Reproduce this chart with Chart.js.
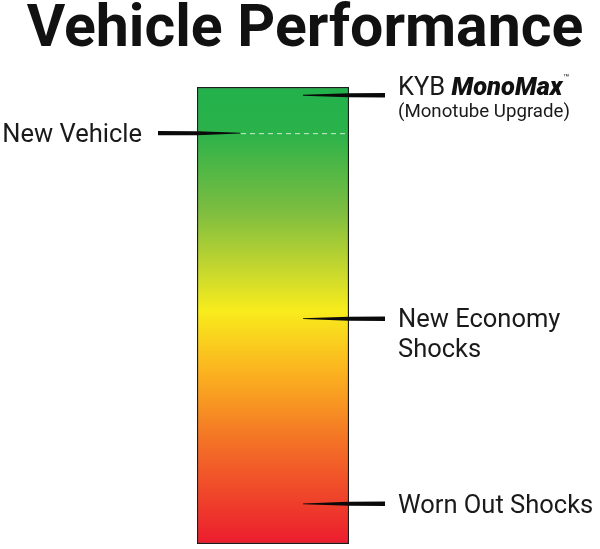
<!DOCTYPE html>
<html>
<head>
<meta charset="utf-8">
<script src="https://cdn.jsdelivr.net/npm/chart.js@4.4.1/dist/chart.umd.min.js"></script>
<style>
  html, body { margin: 0; padding: 0; background: #ffffff; }
  canvas { display: block; }
</style>
</head>
<body>
<canvas id="c" width="600" height="549"></canvas>
<script>
// ---- data ----
const titleText = 'Vehicle Performance';
const categories = ['Performance'];
const barValues = [100];
const markerNames = ['KYB MonoMax', 'New Vehicle', 'New Economy Shocks', 'Worn Out Shocks'];
const markerValues = [98.2, 89.9, 49.3, 8.8];
const markerSides = ['right', 'left', 'right', 'right'];
const axisMin = 0;
const axisMax = 100;

// ---- styling ----
const gradientStops = [
  [0.00, '#22b14c'],
  [0.10, '#2bb24a'],
  [0.27, '#7cbd40'],
  [0.40, '#c6d72e'],
  [0.49, '#f8ec1c'],
  [0.62, '#fbb41f'],
  [0.78, '#f37026'],
  [1.00, '#ec1c2e']
];
const FONT = 'Roboto, "Liberation Sans", Arial, sans-serif';

function taperLine(ctx, xThin, xEdge, xEnd, y) {
  ctx.beginPath();
  ctx.moveTo(xThin, y - 0.4);
  ctx.lineTo(xEdge, y - 2);
  ctx.lineTo(xEnd, y - 2.2);
  ctx.lineTo(xEnd, y + 2.2);
  ctx.lineTo(xEdge, y + 2);
  ctx.lineTo(xThin, y + 0.4);
  ctx.closePath();
  ctx.fill();
}

const annotate = {
  id: 'annotate',
  afterDatasetsDraw(chart) {
    const ctx = chart.ctx;
    const area = chart.chartArea;
    const y = chart.scales.y;
    ctx.save();
    // title
    ctx.fillStyle = '#111';
    ctx.font = 'bold 59px ' + FONT;
    ctx.textAlign = 'center';
    ctx.textBaseline = 'alphabetic';
    ctx.fillText(titleText, 305, 46);

    ctx.fillStyle = '#0a0a0a';
    markerValues.forEach((v, i) => {
      const py = y.getPixelForValue(v);
      if (markerSides[i] === 'right') {
        taperLine(ctx, area.right - 46, area.right, area.right + 36, py);
      } else {
        taperLine(ctx, area.left + 43, area.left, area.left - 39, py);
      }
    });

    // dashed white line for new vehicle
    const nvY = y.getPixelForValue(markerValues[1]);
    ctx.strokeStyle = 'rgba(255,255,255,0.75)';
    ctx.lineWidth = 1;
    ctx.setLineDash([5, 4]);
    ctx.beginPath();
    ctx.moveTo(area.left + 44, nvY + 0.5);
    ctx.lineTo(area.right - 1, nvY + 0.5);
    ctx.stroke();
    ctx.setLineDash([]);

    // labels
    const lx = area.right + 49;
    ctx.fillStyle = '#1a1a1a';
    ctx.textAlign = 'left';
    ctx.textBaseline = 'alphabetic';
    // KYB MonoMax
    const kY = y.getPixelForValue(markerValues[0]);
    ctx.font = '25.5px ' + FONT;
    ctx.fillText('KYB ', lx, kY);
    let w = ctx.measureText('KYB ').width;
    ctx.font = 'italic 900 25.5px ' + FONT;
    ctx.fillStyle = '#111';
    ctx.fillText('MonoMax', lx + w, kY);
    w += ctx.measureText('MonoMax').width;
    ctx.font = '10px ' + FONT;
    ctx.fillText('\u2122', lx + w + 1, kY - 14);
    ctx.fillStyle = '#1a1a1a';
    ctx.font = '18.7px ' + FONT;
    ctx.fillText('(Monotube Upgrade)', lx, kY + 22);

    // New Vehicle
    const nY = y.getPixelForValue(markerValues[1]);
    ctx.font = '25.5px ' + FONT;
    ctx.textAlign = 'right';
    ctx.fillText('New Vehicle', area.left - 55, nY + 9);

    // New Economy Shocks
    ctx.textAlign = 'left';
    const eY = y.getPixelForValue(markerValues[2]);
    ctx.fillText('New Economy', lx, eY + 8);
    ctx.fillText('Shocks', lx, eY + 38);

    // Worn Out Shocks
    const wY = y.getPixelForValue(markerValues[3]);
    ctx.fillText('Worn Out Shocks', lx, wY + 9);
    ctx.restore();
  }
};

new Chart(document.getElementById('c'), {
  type: 'bar',
  data: {
    labels: categories,
    datasets: [{
      data: barValues,
      backgroundColor: (c) => {
        const area = c.chart.chartArea;
        if (!area) return '#22b14c';
        const g = c.chart.ctx.createLinearGradient(0, area.top, 0, area.bottom);
        gradientStops.forEach(s => g.addColorStop(s[0], s[1]));
        return g;
      },
      borderColor: '#1c1c1c',
      borderWidth: 1.5,
      borderSkipped: false,
      barPercentage: 1,
      categoryPercentage: 1
    }]
  },
  options: {
    responsive: false,
    animation: false,
    events: [],
    layout: { padding: { left: 197, right: 251, top: 87, bottom: 5 } },
    plugins: { legend: { display: false }, title: { display: false }, tooltip: { enabled: false } },
    scales: {
      x: { display: false },
      y: { display: false, min: axisMin, max: axisMax }
    }
  },
  plugins: [annotate]
});
</script>
</body>
</html>
